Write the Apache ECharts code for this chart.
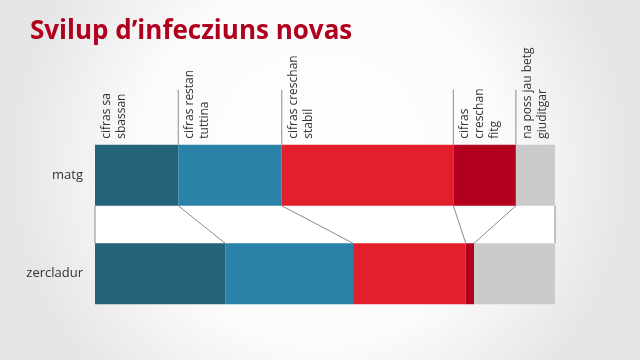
<!DOCTYPE html>
<html>
<head>
<meta charset="utf-8">
<script src="https://cdn.jsdelivr.net/npm/echarts@6/dist/echarts.min.js"></script>
<style>
html,body{margin:0;padding:0;width:640px;height:360px;overflow:hidden;}
#chart{width:640px;height:360px;}
</style>
</head>
<body>
<div id="chart"></div>
<script>
const titleText = 'Svilup d\u2019infecziuns novas';
const categories = ['matg', 'zercladur'];
const segmentLabels = ['cifras sa\nsbassan', 'cifras restan\ntuttina', 'cifras creschan\nstabil', 'cifras\ncreschan\nfitg', 'na poss jau betg\ngiuditgar'];
const matg = [18.1, 22.5, 37.3, 13.6, 8.5];
const zercladur = [28.3, 27.8, 24.5, 1.8, 17.6];
const colors = ['#246379', '#2a82a8', '#e31f2b', '#b2001e', '#cbcbcb'];

const BAR_W = 61;
const cum = arr => arr.reduce((acc, v) => { acc.push(acc[acc.length - 1] + v); return acc; }, [0]);
const topCum = cum(matg);
const botCum = cum(zercladur);

const chart = echarts.init(document.getElementById('chart'));

const barSeries = segmentLabels.map((name, i) => ({
  name: name,
  type: 'bar',
  stack: 'total',
  barWidth: BAR_W,
  itemStyle: { color: colors[i] },
  data: [matg[i], zercladur[i]],
  z: 3
}));

const connectorData = topCum.map((t, k) => [t, botCum[k], k]);
const labelData = matg.map((v, k) => [topCum[k], k]);

const option = {
  backgroundColor: {
    type: 'radial', x: 0.5, y: 0.45, r: 0.85,
    colorStops: [{ offset: 0, color: '#ffffff' }, { offset: 0.6, color: '#fbfbfb' }, { offset: 1, color: '#e6e6e6' }]
  },
  animation: false,
  title: {
    text: titleText,
    left: 25, top: 14,
    textStyle: { color: '#b0001d', fontSize: 26, fontWeight: 'bold', fontFamily: 'Open Sans' }
  },
  grid: { left: 95, right: 85, top: 126, height: 197 },
  xAxis: { type: 'value', min: 0, max: 100, show: false },
  yAxis: {
    type: 'category', inverse: true, data: categories,
    axisLine: { show: false }, axisTick: { show: false }, splitLine: { show: false },
    axisLabel: { color: '#333', fontSize: 13, margin: 12, fontFamily: 'Open Sans' }
  },
  series: barSeries.concat([
    {
      type: 'custom',
      coordinateSystem: 'cartesian2d',
      data: connectorData,
      z: 2,
      silent: true,
      renderItem: function (params, api) {
        const p1 = api.coord([api.value(0), 0]);
        const p2 = api.coord([api.value(1), 1]);
        const y1 = p1[1] + BAR_W / 2;
        const y2 = p2[1] - BAR_W / 2;
        const children = [];
        if (api.value(2) === 0) {
          const r = api.coord([100, 0]);
          children.push({ type: 'rect', shape: { x: p1[0], y: y1, width: r[0] - p1[0], height: y2 - y1 }, style: { fill: '#ffffff' } });
        }
        children.push({ type: 'line', shape: { x1: p1[0], y1: y1, x2: p2[0], y2: y2 }, style: { stroke: '#8a8a8a', lineWidth: 1 } });
        return { type: 'group', children: children };
      }
    },
    {
      type: 'custom',
      coordinateSystem: 'cartesian2d',
      data: labelData,
      z: 4,
      silent: true,
      renderItem: function (params, api) {
        const k = api.value(1);
        const p = api.coord([api.value(0), 0]);
        const yTop = p[1] - BAR_W / 2;
        const children = [];
        if (k > 0) {
          children.push({ type: 'line', shape: { x1: p[0], y1: yTop, x2: p[0], y2: yTop - 55 }, style: { stroke: '#8a8a8a', lineWidth: 1 } });
        }
        children.push({
          type: 'text',
          x: p[0] + 4, y: yTop - 6,
          rotation: Math.PI / 2,
          style: {
            text: segmentLabels[k],
            fill: '#333', fontSize: 12, fontFamily: 'Open Sans',
            lineHeight: 15, align: 'left', verticalAlign: 'top'
          }
        });
        return { type: 'group', children: children };
      }
    }
  ])
};
chart.setOption(option);
</script>
</body>
</html>
